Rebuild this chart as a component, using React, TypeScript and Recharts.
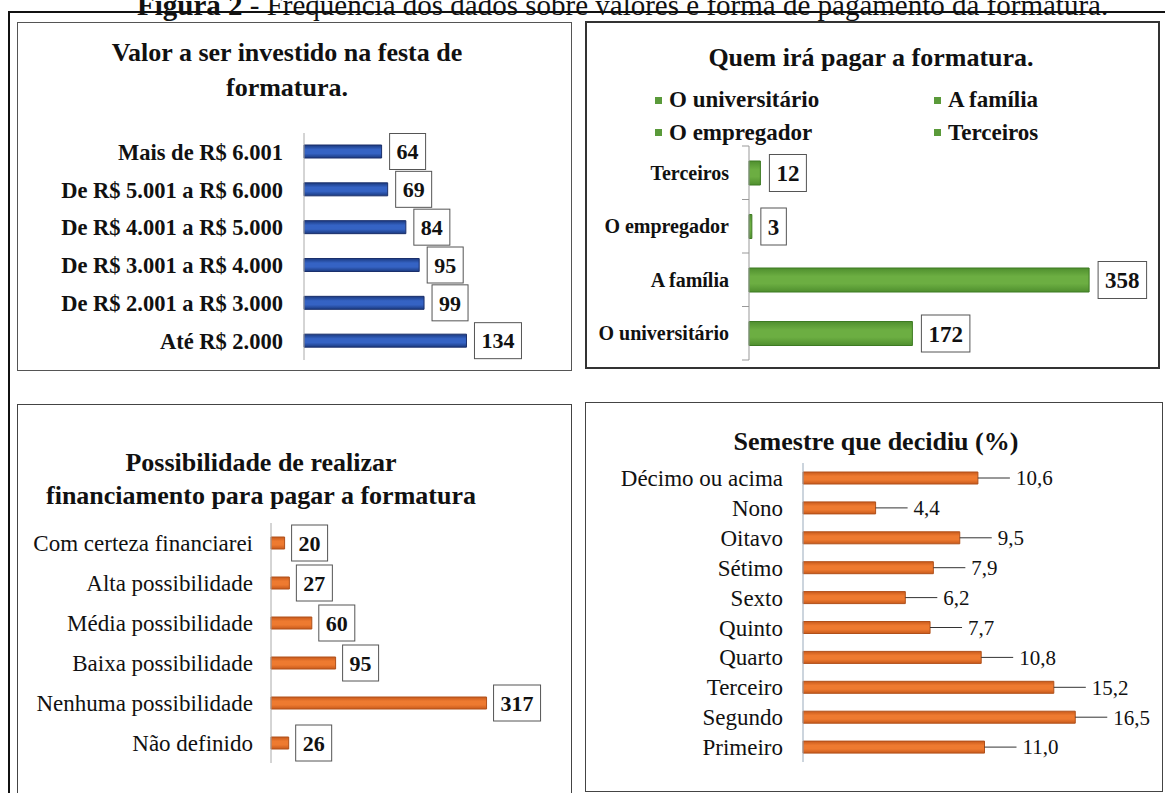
import React from "react";
import { Bar, BarChart, XAxis, YAxis } from "recharts";

// Valor a ser investido (top to bottom)
const valorCats = ["Mais de R$ 6.001", "De R$ 5.001 a R$ 6.000", "De R$ 4.001 a R$ 5.000", "De R$ 3.001 a R$ 4.000", "De R$ 2.001 a R$ 3.000", "Até R$ 2.000"];
const valorCounts = [64, 69, 84, 95, 99, 134];

// Quem irá pagar
const pagadorCats = ["Terceiros", "O empregador", "A família", "O universitário"];
const pagadorCounts = [12, 3, 358, 172];

// Possibilidade de financiamento
const financCats = ["Com certeza financiarei", "Alta possibilidade", "Média possibilidade", "Baixa possibilidade", "Nenhuma possibilidade", "Não definido"];
const financCounts = [20, 27, 60, 95, 317, 26];

// Semestre que decidiu (%)
const semestreCats = ["Décimo ou acima", "Nono", "Oitavo", "Sétimo", "Sexto", "Quinto", "Quarto", "Terceiro", "Segundo", "Primeiro"];
const semestrePct = [10.6, 4.4, 9.5, 7.9, 6.2, 7.7, 10.8, 15.2, 16.5, 11.0];

const zip = (cats: string[], vals: number[]) => cats.map((name, i) => ({ name, value: vals[i] }));

const valorData = zip(valorCats, valorCounts);
const pagadorData = zip(pagadorCats, pagadorCounts);
const financData = zip(financCats, financCounts);
const semestreData = zip(semestreCats, semestrePct);

const SERIF = '"Liberation Serif", "Times New Roman", serif';

function CatTick(props: any) {
  const { x, y, payload, size, weight, band, margin, last } = props;
  return (
    <g>
      <text x={x} y={y} dy="0.35em" textAnchor="end" fontFamily={SERIF} fontSize={size} fontWeight={weight} fill="#111">
        {payload.value}
      </text>
      {band ? (
        <>
          <line x1={x + margin - 7} x2={x + margin} y1={y - band / 2} y2={y - band / 2} stroke="#999" />
          {last ? <line x1={x + margin - 7} x2={x + margin} y1={y + band / 2} y2={y + band / 2} stroke="#999" /> : null}
        </>
      ) : null}
    </g>
  );
}

function boxLabel(size: number, gap: number, boxH: number) {
  return (p: any) => {
    const { x, y, width, height, value } = p;
    const txt = String(value);
    const w = txt.length * size * 0.5 + 14;
    const bx = x + width + gap;
    const cy = y + height / 2;
    return (
      <g>
        <rect x={bx} y={cy - boxH / 2} width={w} height={boxH} fill="#fff" stroke="#555" strokeWidth={1} />
        <text x={bx + w / 2} y={cy} dy="0.35em" textAnchor="middle" fontFamily={SERIF} fontSize={size} fontWeight="bold" fill="#111">
          {txt}
        </text>
      </g>
    );
  };
}

function leaderLabel(p: any) {
  const { x, y, width, height, value } = p;
  const ex = x + width;
  const cy = y + height / 2;
  return (
    <g>
      <line x1={ex} x2={ex + 32} y1={cy} y2={cy} stroke="#333" strokeWidth={1} />
      <text x={ex + 38} y={cy} dy="0.35em" fontFamily={SERIF} fontSize={21} fill="#111">
        {Number(value).toFixed(1).replace(".", ",")}
      </text>
    </g>
  );
}

const panelBox = (x: number, y: number, w: number, h: number, border: string): React.CSSProperties => ({
  position: "absolute",
  left: x,
  top: y,
  width: w,
  height: h,
  border,
  boxSizing: "border-box",
  background: "#fff",
});

const titleStyle = (cx: number, top: number, lh: number): React.CSSProperties => ({
  position: "absolute",
  left: cx - 260,
  width: 520,
  top,
  textAlign: "center",
  fontFamily: SERIF,
  fontWeight: "bold",
  fontSize: 26,
  lineHeight: `${lh}px`,
  color: "#111",
  whiteSpace: "nowrap",
});

function Grad({ id, edge, mid }: { id: string; edge: string; mid: string }) {
  return (
    <defs>
      <linearGradient id={id} x1="0" y1="0" x2="0" y2="1">
        <stop offset="0%" stopColor={edge} />
        <stop offset="35%" stopColor={mid} />
        <stop offset="65%" stopColor={mid} />
        <stop offset="100%" stopColor={edge} />
      </linearGradient>
    </defs>
  );
}

export default function App() {
  const legendItems = [pagadorCats[3], pagadorCats[2], pagadorCats[1], pagadorCats[0]];
  return (
    <div style={{ position: "absolute", left: 0, top: 0, width: 1165, height: 793, overflow: "hidden", background: "#fff" }}>
      <div
        style={{
          position: "absolute",
          left: 137,
          top: -9,
          fontFamily: SERIF,
          fontSize: 29,
          lineHeight: "29px",
          whiteSpace: "nowrap",
          color: "#111",
        }}
      >
        <b>Figura 2</b> - Frequência dos dados sobre valores e forma de pagamento da formatura.
      </div>
      <div style={{ position: "absolute", left: 8, top: 11, width: 1300, height: 900, borderTop: "2.5px solid #111", borderLeft: "2px solid #111" }} />

      {/* panel 1 */}
      <div style={panelBox(17, 22, 555, 349, "1.5px solid #555")} />
      <div style={titleStyle(287, 35, 35)}>
        Valor a ser investido na festa de
        <br />
        formatura.
      </div>
      <div style={{ position: "absolute", left: 17, top: 22 }}>
        <BarChart layout="vertical" width={555} height={349} data={valorData} margin={{ top: 111, right: 74, bottom: 11, left: 0 }} barSize={13}>
          <Grad id="gBlue" edge="#1b3a80" mid="#3563c4" />
          <XAxis type="number" domain={[0, 160]} hide />
          <YAxis
            type="category"
            dataKey="name"
            width={287}
            interval={0}
            axisLine={{ stroke: "#aaa" }}
            tickLine={false}
            tickSize={0}
            tickMargin={21}
            tick={(p: any) => <CatTick {...p} size={22.5} weight="bold" />}
          />
          <Bar dataKey="value" fill="url(#gBlue)" stroke="#1a2f6b" strokeWidth={1} isAnimationActive={false} label={boxLabel(22, 8, 36)} />
        </BarChart>
      </div>

      {/* panel 2 */}
      <div style={panelBox(585, 21, 575, 348, "2px solid #333")} />
      <div style={titleStyle(871, 41, 34)}>Quem irá pagar a formatura.</div>
      {legendItems.map((name, i) => {
        const col = i % 2;
        const row = Math.floor(i / 2);
        return (
          <div
            key={name}
            style={{
              position: "absolute",
              left: col === 0 ? 655 : 934,
              top: 100 + row * 32.5 - 15,
              height: 30,
              lineHeight: "30px",
              fontFamily: SERIF,
              fontWeight: "bold",
              fontSize: 23,
              color: "#111",
              whiteSpace: "nowrap",
              display: "flex",
              alignItems: "center",
            }}
          >
            <span style={{ display: "inline-block", width: 7, height: 7, background: "#5a9a3a", marginRight: 7 }} />
            {name}
          </div>
        );
      })}
      <div style={{ position: "absolute", left: 585, top: 21 }}>
        <BarChart layout="vertical" width={575} height={348} data={pagadorData} margin={{ top: 125, right: 31, bottom: 9, left: 0 }} barSize={24}>
          <Grad id="gGreen" edge="#4f8f2e" mid="#6cae42" />
          <XAxis type="number" domain={[0, 400]} hide />
          <YAxis
            type="category"
            dataKey="name"
            width={164}
            interval={0}
            axisLine={{ stroke: "#999" }}
            tickLine={false}
            tickSize={0}
            tickMargin={20}
            tick={(p: any) => (
              <CatTick {...p} size={20} weight="bold" band={214 / pagadorData.length} margin={20} last={p.index === pagadorData.length - 1} />
            )}
          />
          <Bar dataKey="value" fill="url(#gGreen)" stroke="#3d7a22" strokeWidth={1} isAnimationActive={false} label={boxLabel(23, 9, 37)} />
        </BarChart>
      </div>

      {/* panel 3 */}
      <div style={panelBox(17, 404, 555, 395, "1.5px solid #444")} />
      <div style={titleStyle(261, 446, 33)}>
        Possibilidade de realizar
        <br />
        financiamento para pagar a formatura
      </div>
      <div style={{ position: "absolute", left: 17, top: 404 }}>
        <BarChart layout="vertical" width={555} height={395} data={financData} margin={{ top: 119, right: 63, bottom: 36, left: 0 }} barSize={12}>
          <Grad id="gOrange" edge="#c85a1c" mid="#ee7a30" />
          <XAxis type="number" domain={[0, 350]} hide />
          <YAxis
            type="category"
            dataKey="name"
            width={254}
            interval={0}
            axisLine={{ stroke: "#aaa" }}
            tickLine={false}
            tickSize={0}
            tickMargin={18}
            tick={(p: any) => <CatTick {...p} size={23} weight="normal" />}
          />
          <Bar dataKey="value" fill="url(#gOrange)" stroke="#b0501a" strokeWidth={1} isAnimationActive={false} label={boxLabel(22, 7, 36)} />
        </BarChart>
      </div>

      {/* panel 4 */}
      <div style={panelBox(585, 402, 578, 390, "1.5px solid #444")} />
      <div style={titleStyle(876, 425, 34)}>Semestre que decidiu (%)</div>
      <div style={{ position: "absolute", left: 585, top: 402 }}>
        <BarChart layout="vertical" width={578} height={390} data={semestreData} margin={{ top: 61, right: 30, bottom: 30, left: 0 }} barSize={12}>
          <Grad id="gOrange2" edge="#c85a1c" mid="#ee7a30" />
          <XAxis type="number" domain={[0, 20]} hide />
          <YAxis
            type="category"
            dataKey="name"
            width={218}
            interval={0}
            axisLine={{ stroke: "#9ab" }}
            tickLine={false}
            tickSize={0}
            tickMargin={20}
            tick={(p: any) => <CatTick {...p} size={23} weight="normal" />}
          />
          <Bar dataKey="value" fill="url(#gOrange2)" stroke="#b0501a" strokeWidth={1} isAnimationActive={false} label={leaderLabel} />
        </BarChart>
      </div>
    </div>
  );
}
